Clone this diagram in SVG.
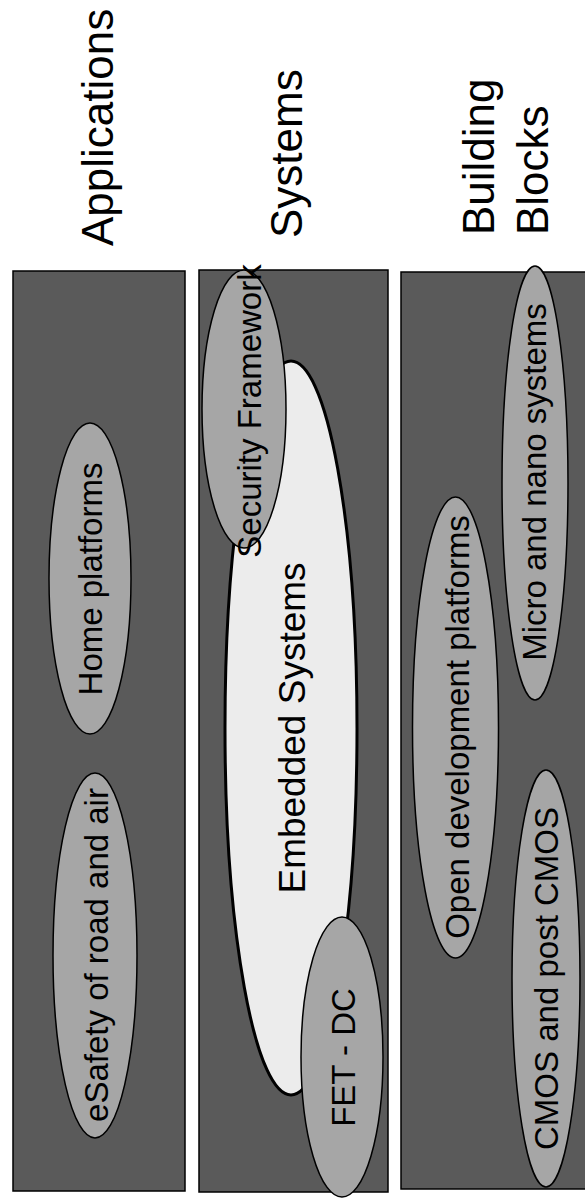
<svg xmlns="http://www.w3.org/2000/svg" width="585" height="1203" viewBox="0 0 585 1203">
<style>
.panel{fill:#5a5a5a;stroke:#000;stroke-width:1.5}
.oval{fill:#a6a6a6;stroke:#000;stroke-width:1.5}
.big{fill:#ececec;stroke:#000;stroke-width:3}
text{font-family:"Liberation Sans",Arial,sans-serif;fill:#000}
.hd{font-size:44px}
.lb{font-size:33px;text-anchor:middle}
.lb2{font-size:37px;text-anchor:middle}
</style>
<g id="headers">
<text class="hd" transform="translate(113,246) rotate(-90)">Applications</text>
<text class="hd" transform="translate(302,238) rotate(-90)">Systems</text>
<text class="hd" transform="translate(494,235) rotate(-90)">Building</text>
<text class="hd" transform="translate(548,235) rotate(-90)">Blocks</text>
</g>
<g id="panel-applications"><rect class="panel" x="13" y="271" width="172" height="920"/></g>
<g id="panel-systems"><rect class="panel" x="199" y="270" width="189" height="922"/></g>
<g id="panel-building-blocks"><rect class="panel" x="401" y="272" width="200" height="917"/></g>
<g id="home-platforms">
<ellipse class="oval" cx="90" cy="578.5" rx="41" ry="155.5"/>
<text class="lb" transform="translate(102,579) rotate(-90)">Home platforms</text>
</g>
<g id="esafety">
<ellipse class="oval" cx="95" cy="955.5" rx="42" ry="182.5"/>
<text class="lb" transform="translate(108,955) rotate(-90)">eSafety of road and air</text>
</g>
<g id="embedded-systems">
<ellipse class="big" cx="291" cy="728" rx="66" ry="367"/>
<text class="lb2" transform="translate(305,728) rotate(-90)">Embedded Systems</text>
</g>
<g id="security-framework">
<ellipse class="oval" cx="244" cy="409" rx="42" ry="139"/>
<text class="lb" transform="translate(261,411) rotate(-90)">Security Framework</text>
</g>
<g id="fet-dc">
<ellipse class="oval" cx="342" cy="1057" rx="41" ry="140"/>
<text class="lb" transform="translate(355,1057.5) rotate(-90)">FET - DC</text>
</g>
<g id="open-development-platforms">
<ellipse class="oval" cx="455.5" cy="727.5" rx="43" ry="230.5"/>
<text class="lb" transform="translate(469,727) rotate(-90)">Open development platforms</text>
</g>
<g id="micro-nano-systems">
<ellipse class="oval" cx="535" cy="483" rx="33" ry="217"/>
<text class="lb" transform="translate(546,482) rotate(-90)">Micro and nano systems</text>
</g>
<g id="cmos">
<ellipse class="oval" cx="546" cy="978.5" rx="34" ry="208.5"/>
<text class="lb" transform="translate(558,978.5) rotate(-90)">CMOS and post CMOS</text>
</g>
<g id="connectors"/>
</svg>
